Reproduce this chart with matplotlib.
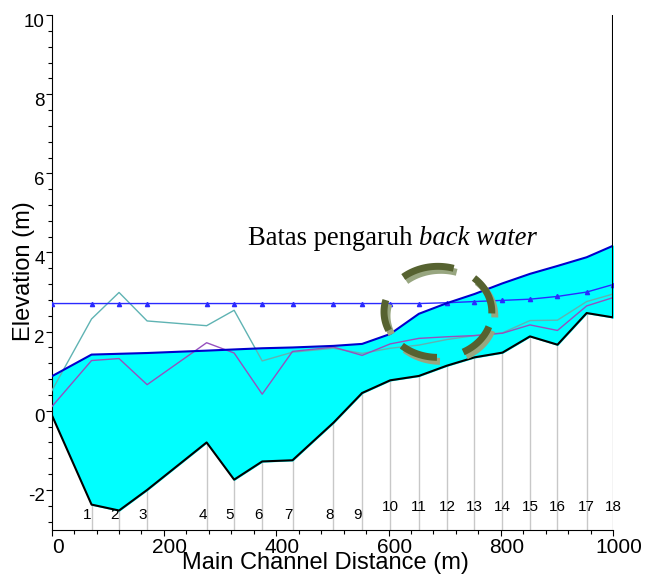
import matplotlib
matplotlib.use("Agg")
import matplotlib.pyplot as plt
import numpy as np
from matplotlib.ticker import MultipleLocator
from matplotlib.transforms import ScaledTranslation

plt.rcParams['font.family'] = ['Liberation Sans', 'DejaVu Sans']
plt.rcParams['axes.unicode_minus'] = False

# main channel distance of each cross section (m)
station = [0, 71, 120, 170, 276, 325, 375, 429, 502, 553, 603, 654, 704, 753, 803, 852, 901, 953, 1000]
# channel bed elevation
ground = [-0.1, -2.37, -2.52, -2.0, -0.8, -1.74, -1.28, -1.25, -0.3, 0.45, 0.77, 0.88, 1.14, 1.35, 1.47,
          1.88, 1.67, 2.47, 2.36]
# water surface (top of cyan area)
ws = [0.87, 1.42, 1.44, 1.46, 1.52, 1.55, 1.58, 1.60, 1.64, 1.69, 1.94, 2.45, 2.72, 2.95, 3.22, 3.46, 3.66,
      3.88, 4.17]
# water surface with back water (line with markers)
ws_bw = [2.71, 2.71, 2.71, 2.71, 2.71, 2.71, 2.71, 2.71, 2.71, 2.71, 2.71, 2.71, 2.73, 2.76, 2.79, 2.82,
         2.89, 3.00, 3.19]
# left / right bank
lob = [0.5, 2.32, 2.99, 2.27, 2.15, 2.54, 1.26, 1.48, 1.58, 1.45, 1.58, 1.66, 1.80, 1.90, 1.97, 2.28, 2.29,
       2.76, 2.95]
rob = [0.1, 1.27, 1.32, 0.66, 1.72, 1.46, 0.42, 1.50, 1.61, 1.40, 1.69, 1.83, 1.87, 1.90, 1.96, 2.17, 2.03,
       2.65, 2.86]
section_names = [str(i) for i in range(1, 19)]

fig = plt.figure(figsize=(6.46, 5.76), dpi=100)
ax = fig.add_axes([0.080, 0.0807, 0.869, 0.8932])

# section lines
for s, g in zip(station[1:], ground[1:]):
    ax.plot([s, s], [-3, g], color='#c8c8c8', lw=1, zorder=1)

ax.fill_between(station, ground, ws, color='#00ffff', zorder=2)
ax.plot(station, lob, color='#5fb3b3', lw=1, zorder=3)
ax.plot(station, rob, color='#9650be', lw=1, zorder=3)
ax.plot(station, ws_bw, color='#2a2aff', lw=1, marker='^', ms=3, zorder=4)
ax.plot(station, ws, color='#0000cd', lw=1.5, zorder=4)
ax.plot(station, ground, color='black', lw=1.5, zorder=5)
ax.plot([station[-1], station[-1]], [ground[-1], 10], color='black', lw=1.5, zorder=5)

# section numbers
for i, (s, name) in enumerate(zip(station[1:], section_names)):
    yy = -2.63 if i < 9 else -2.42
    ax.text(s - 15, yy, name, fontsize=11, ha='left', va='center', zorder=6)

# dashed circle around the back water limit
cx, cy, rx, ry = 688, 2.5, 96, 1.15
arcs = [(-62, -19), (-2, 48), (73, 130), (165, 204), (228, 269)]
shadow = ScaledTranslation(3 / 100, -4 / 100, fig.dpi_scale_trans)
for t1, t2 in arcs:
    phi = np.deg2rad(np.linspace(t1, t2, 30))
    ax.plot(cx + rx * np.cos(phi), cy + ry * np.sin(phi), color='#98a680', lw=5,
            solid_capstyle='butt', transform=ax.transData + shadow, zorder=7)
    ax.plot(cx + rx * np.cos(phi), cy + ry * np.sin(phi), color='#566230', lw=5,
            solid_capstyle='butt', zorder=8)

t = ax.text(350, 4.05, 'Batas pengaruh ', family='Liberation Serif', fontsize=19.2, va='bottom', zorder=9)
ax.annotate('back water', xy=(1, 0), xycoords=t, family='Liberation Serif', style='italic', fontsize=19.2,
            va='bottom', ha='left', zorder=9)

ax.set_xlim(0, 1000)
ax.set_ylim(-3, 10)
ax.xaxis.set_major_locator(MultipleLocator(200))
ax.xaxis.set_minor_locator(MultipleLocator(40))
ax.yaxis.set_major_locator(MultipleLocator(2))
ax.yaxis.set_minor_locator(MultipleLocator(0.4))
ax.spines['top'].set_visible(False)
ax.spines['right'].set_visible(False)
ax.tick_params(axis='both', which='major', direction='out', length=4, width=0.8)
ax.tick_params(axis='both', which='minor', direction='out', length=3, width=0.8)
ax.tick_params(axis='x', labelsize=15, pad=2)
ax.tick_params(axis='y', labelsize=13.5, pad=1)

fig.canvas.draw()
for lab in ax.get_yticklabels():
    lab.set_transform(lab.get_transform() + ScaledTranslation(0, -5 / 100, fig.dpi_scale_trans))
for lab in ax.get_xticklabels()[1:]:
    lab.set_transform(lab.get_transform() + ScaledTranslation(6 / 100, 0, fig.dpi_scale_trans))

fig.text(24 / 646, 1 - 271 / 576, 'Elevation (m)', rotation=90, fontsize=17, ha='center', va='center')
fig.text(325 / 646, 1 - 563 / 576, 'Main Channel Distance (m)', fontsize=17, ha='center', va='center')

fig.savefig('out.png', dpi=100)
